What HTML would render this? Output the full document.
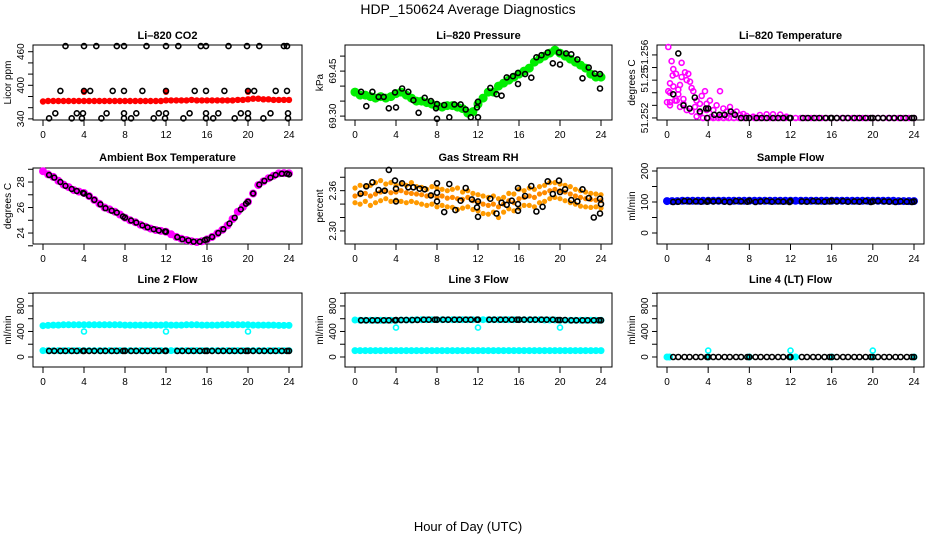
<!DOCTYPE html>
<html><head><meta charset="utf-8"><style>
html,body{margin:0;padding:0;background:#fff}
svg{display:block;font-family:"Liberation Sans",Arial,sans-serif}
</style></head><body>
<svg id="chart" width="936" height="540" viewBox="0 0 936 540" xmlns="http://www.w3.org/2000/svg">
<rect x="0" y="0" width="936" height="540" fill="#fff"/>
<text x="468" y="14" text-anchor="middle" font-size="14">HDP_150624  Average Diagnostics</text>
<text x="468" y="531" text-anchor="middle" font-size="13">Hour of Day (UTC)</text>
<g id="plots"></g>
</svg>
<script>
const xTicks=[0,4,8,12,16,20,24];
const hours=[0,0.5,1,1.5,2,2.5,3,3.5,4,4.5,5,5.5,6,6.5,7,7.5,8,8.5,9,9.5,10,10.5,11,11.5,12,12.5,13,13.5,14,14.5,15,15.5,16,16.5,17,17.5,18,18.5,19,19.5,20,20.5,21,21.5,22,22.5,23,23.5,24];
const blackHours=[0.6,1.1,1.7,2.2,2.8,3.3,3.9,4.0,4.5,5.0,5.6,6.1,6.7,7.2,7.8,8.0,8.6,9.1,9.7,10.2,10.8,11.3,11.9,12.0,13.1,13.6,14.2,14.7,15.3,15.8,16.0,16.5,17.1,17.6,18.2,18.7,19.3,19.8,20.0,20.5,21.1,21.6,22.2,22.7,23.3,23.8,24.0];
const outlierHours=[4,12,20];
// CO2
const co2Red=[371,372,372,372,372,372,372,372,372,372,372,372,372,372,372,372,372,372,372,372,372,372,372,372,373,373,373,373,373,374,373,373,373,373,373,373,373,373,374,374,375,376,376,375,375,374,374,374,374];
const co2RedOutVals=[388,388,388];
const co2BlkHours=[2.2,4.0,5.2,7.2,7.9,10.1,12.0,13.2,15.4,15.9,18.1,19.9,21.1,23.5,23.8,1.7,4.0,4.6,6.8,7.9,9.7,12.0,14.8,15.9,17.7,20.0,20.6,22.7,23.8,1.2,3.3,3.9,6.2,7.9,9.1,11.3,12.0,14.3,15.9,17.1,19.3,20.0,22.2,23.9,0.6,2.8,3.8,5.7,7.9,8.6,10.8,11.9,13.7,15.9,16.6,18.7,20.0,21.5,23.9];
const co2BlkVals=[470,470,470,470,470,470,470,470,470,470,470,470,470,470,470,390,390,390,390,390,390,390,390,390,390,390,390,390,390,350,350,350,350,350,350,350,350,350,350,350,350,350,350,350,341,341,341,341,341,341,341,341,341,341,341,341,341,341,341];
// Pressure
const presGreen=[69.38,69.37,69.37,69.365,69.36,69.365,69.36,69.365,69.375,69.38,69.37,69.36,69.35,69.35,69.345,69.34,69.335,69.33,69.335,69.335,69.33,69.325,69.31,69.315,69.34,69.36,69.38,69.38,69.4,69.41,69.42,69.43,69.44,69.45,69.46,69.48,69.49,69.5,69.51,69.52,69.51,69.5,69.49,69.48,69.47,69.46,69.44,69.43,69.43];
const presBlkHours=[0.6,1.1,1.7,2.3,2.8,3.3,3.9,4.0,4.6,5.2,5.7,6.2,6.8,7.4,7.9,8.0,8.0,8.7,9.2,9.7,10.3,10.8,11.3,11.9,12.0,12.0,13.2,13.8,14.3,14.8,15.4,15.9,15.9,16.6,17.2,17.7,18.2,18.8,19.3,19.9,20.0,20.6,21.1,21.7,22.2,22.8,23.4,23.9,23.9];
const presBlkVals=[69.381,69.333,69.381,69.364,69.364,69.326,69.379,69.329,69.392,69.381,69.353,69.311,69.361,69.35,69.326,69.34,69.291,69.337,69.296,69.339,69.339,69.322,69.296,69.329,69.348,69.296,69.394,69.373,69.368,69.429,69.433,69.444,69.407,69.44,69.428,69.496,69.503,69.512,69.476,69.512,69.472,69.509,69.506,69.489,69.426,69.462,69.442,69.44,69.392];
// Li-820 temperature
const tempMagHours=[0.13,0.45,0.61,0.55,0.29,0.13,0.29,0.78,1.1,1.26,0.87,1.42,1.75,0.61,0.29,1.91,2.23,2.39,2.56,2.88,2.72,1.91,1.59,3.2,3.37,3.69,3.85,4.17,4.5,4.82,5.15,5.47,5.79,6.12,6.44,6.76,7.09,3.2,2.88,2.39,1.26,7.41,7.73,8.38,9.03,9.68,10.3,11.0,11.6,0.94,0.0,0.29,1.1,1.42,2.07,1.59,3.85,4.34,5.15,5.79];
const tempMagVals=[51.2565,51.2556,51.2551,51.2547,51.2542,51.2537,51.2530,51.2531,51.2535,51.2541,51.2548,51.2555,51.2549,51.2540,51.2528,51.2544,51.2543,51.2539,51.2537,51.2531,51.2527,51.2525,51.2529,51.2529,51.2534,51.2537,51.2529,51.2531,51.2525,51.2528,51.2537,51.2526,51.2524,51.2527,51.2523,51.2524,51.2522,51.2523,51.2521,51.2524,51.2527,51.25225,51.25213,51.25208,51.25219,51.25223,51.25223,51.25221,51.25208,51.2531,51.2530,51.2536,51.2538,51.2546,51.2548,51.2532,51.2525,51.25208,51.25208,51.25208];
const tempFloor=51.2520;
const tempBlkHours=[0.6,1.1,1.6,2.2,2.7,3.2,3.8,3.9,4.0,4.6,5.1,5.6,6.2,6.6,7.2,7.7,8.0,8.7,9.2,9.7,10.3,10.8,11.3,11.9,12.0,13.2,13.7,14.3,14.8,15.4,15.9,16.0,16.5,17.1,17.6,18.2,18.7,19.3,19.8,20.0,20.5,21.0,21.6,22.1,22.7,23.2,23.8,24.0];
const tempBlkVals=[51.2535,51.2561,51.2528,51.2526,51.2533,51.2524,51.2526,51.2520,51.2526,51.2522,51.2522,51.2522,51.2524,51.2522,51.2520,51.2520,51.2520,51.2520,51.2520,51.2520,51.2520,51.2520,51.2520,51.2520,51.2520,51.2520,51.2520,51.2520,51.2520,51.2520,51.2520,51.2520,51.2520,51.2520,51.2520,51.2520,51.2520,51.2520,51.2520,51.2520,51.2520,51.2520,51.2520,51.2520,51.2520,51.2520,51.2520,51.2520];
// Ambient
const ambMag=[28.85,28.6,28.4,28.1,27.8,27.6,27.37,27.25,27.14,26.9,26.6,26.3,26.0,25.85,25.67,25.45,25.2,25.0,24.85,24.65,24.5,24.35,24.24,24.17,24.1,23.9,23.7,23.55,23.45,23.35,23.3,23.35,23.5,23.7,23.97,24.25,24.6,25.1,25.67,26.05,26.45,27.1,27.76,28.05,28.3,28.5,28.68,28.7,28.68];
const ambBlk=[28.55,28.35,28.0,27.7,27.45,27.3,27.15,27.1,26.9,26.6,26.25,25.95,25.75,25.6,25.3,25.2,24.98,24.82,24.6,24.45,24.3,24.2,24.12,24.1,23.68,23.52,23.42,23.32,23.32,23.45,23.5,23.7,24.0,24.3,24.75,25.2,25.85,26.3,26.45,27.1,27.8,28.1,28.35,28.55,28.65,28.65,28.6];
// RH
const rhMid=[2.352,2.354,2.356,2.352,2.355,2.358,2.36,2.357,2.358,2.36,2.357,2.356,2.355,2.354,2.352,2.353,2.35,2.352,2.349,2.35,2.348,2.347,2.35,2.345,2.342,2.34,2.338,2.34,2.336,2.34,2.345,2.342,2.348,2.35,2.352,2.35,2.355,2.357,2.36,2.362,2.36,2.358,2.355,2.352,2.35,2.348,2.347,2.346,2.345];
const rhHi=[2.364,2.368,2.366,2.368,2.372,2.375,2.37,2.372,2.368,2.37,2.368,2.372,2.366,2.365,2.362,2.366,2.364,2.362,2.36,2.362,2.364,2.358,2.36,2.356,2.354,2.352,2.35,2.352,2.348,2.35,2.356,2.355,2.362,2.36,2.364,2.362,2.366,2.368,2.372,2.372,2.37,2.368,2.366,2.362,2.36,2.358,2.356,2.355,2.354];
const rhLo=[2.342,2.34,2.344,2.338,2.342,2.345,2.348,2.344,2.346,2.344,2.342,2.344,2.342,2.34,2.338,2.34,2.336,2.338,2.336,2.335,2.332,2.334,2.336,2.332,2.33,2.326,2.325,2.328,2.32,2.328,2.333,2.33,2.334,2.338,2.338,2.336,2.342,2.344,2.348,2.35,2.348,2.345,2.342,2.34,2.337,2.336,2.335,2.336,2.334];
const rhBlkHours=[0.55,1.1,1.7,2.3,2.9,3.3,3.9,4.0,4.0,4.6,5.2,5.7,6.3,6.8,7.4,8.0,8.0,8.0,8.7,9.2,9.8,10.3,10.8,11.4,12.0,11.9,12.0,13.2,13.8,14.3,14.8,15.3,15.9,15.9,15.9,16.6,17.2,17.7,18.3,18.8,19.3,19.9,20.0,20.5,21.1,21.7,22.2,22.8,23.3,23.9,23.9,24.0];
const rhBlkVals=[2.3556,2.3665,2.3725,2.361,2.36,2.391,2.375,2.363,2.344,2.371,2.365,2.365,2.363,2.362,2.353,2.371,2.357,2.344,2.328,2.37,2.331,2.345,2.364,2.347,2.344,2.335,2.321,2.348,2.326,2.342,2.339,2.345,2.34,2.364,2.33,2.352,2.367,2.329,2.336,2.374,2.355,2.375,2.358,2.362,2.346,2.344,2.362,2.349,2.32,2.326,2.348,2.34];
// Flows
const sampleBlue=[103,103,103,104,104,104,104,104,104,104,104,104,104,104,104,104,104,104,104,104,104,104,104,104,104,104,104,104,104,104,104,104,104,104,104,104,104,104,104,104,104,104,104,104,104,103,103,103,103];
const sampleBlk=[100,101,103,102,102,101,101,104,102,103,101,100,103,102,101,104,100,102,103,101,102,101,100,103,102,101,103,102,101,102,104,102,103,101,102,101,103,100,102,103,102,101,100,102,101,100,102];
const line2Upper=[490,495,500,500,505,505,505,505,505,505,505,505,505,505,505,505,500,500,500,500,500,500,500,500,505,500,500,500,505,505,505,500,500,500,500,505,505,505,505,505,505,500,500,500,500,500,495,495,495];
const line2Lower=[100,100,100,100,100,100,100,100,100,100,100,100,100,100,100,100,100,100,100,100,100,100,100,100,100,100,100,100,100,100,100,100,100,100,100,100,100,100,100,100,100,100,100,100,100,100,100,100,100];
const line2Blk=[95,95,95,95,95,95,95,95,95,95,95,95,95,95,95,95,95,95,95,95,95,95,95,95,95,95,95,95,95,95,95,95,95,95,95,95,95,95,95,95,95,95,95,95,95,95,95];
const line2Out=[400,400,400];
const line3Upper=[580,575,575,575,575,575,575,575,575,580,580,580,585,585,585,585,585,585,585,585,585,585,585,585,585,585,585,585,585,585,585,585,585,585,585,585,585,580,580,580,575,575,575,575,575,575,575,575,575];
const line3Lower=[100,100,100,100,100,100,100,100,100,100,100,100,100,100,100,100,100,100,100,100,100,100,100,100,100,100,100,100,100,100,100,100,100,100,100,100,100,100,100,100,100,100,100,100,100,100,100,100,100];
const line3Blk=[575,575,575,575,575,575,575,578,580,580,580,582,585,585,585,585,585,585,585,585,585,585,585,585,585,585,585,585,585,585,585,585,585,585,585,585,585,580,580,580,575,575,575,575,575,575,575];
const line3Out=[460,460,460];
const line4Blk=[0,0,0,0,0,0,0,0,0,0,0,0,0,0,0,0,0,0,0,0,0,0,0,0,0,0,0,0,0,0,0,0,0,0,0,0,0,0,0,0,0,0,0,0,0,0,0];
const line4CyanHours=[0,0.25,4,8,12,12.5,16,20,24];
const line4CyanVals=[0,0,0,0,0,0,0,0,0];
const line4Out=[100,100,100];

const NS="http://www.w3.org/2000/svg";
const root=document.getElementById('plots');
function el(tag,parent){const e=document.createElementNS(NS,tag);parent.appendChild(e);return e;}

const cols=[{l:33,r:302,x0:43,x24:289},{l:345,r:612,x0:355,x24:601},{l:657,r:924,x0:667,x24:914}];
const rows=[{t:45,b:120,ty:39},{t:168,b:244,ty:161},{t:293,b:367,ty:283}];

function makePanel(name,ci,ri,title,ylab,ymin,ymax,yticks,ylabels){
  const c=cols[ci],r=rows[ri];
  const g=el('g',root);
  
  
  const xs=h=>c.x0+(c.x24-c.x0)*h/24;
  const ys=v=>r.b-(v-ymin)/(ymax-ymin)*(r.b-r.t);
  const t=el('text',g);
  
  
  t.setAttribute('x',(c.l+c.r)/2);t.setAttribute('y',r.ty);t.setAttribute('text-anchor','middle');
  t.setAttribute('font-size','11');t.setAttribute('font-weight','bold');t.textContent=title;
  const box=el('rect',g);
  
  
  box.setAttribute('x',c.l);box.setAttribute('y',r.t);box.setAttribute('width',c.r-c.l);box.setAttribute('height',r.b-r.t);
  box.setAttribute('fill','none');box.setAttribute('stroke','#000');box.setAttribute('stroke-width','1');
  const xa=el('g',g);
  
  
  xTicks.forEach(h=>{
    const l=el('line',xa);l.setAttribute('x1',xs(h));l.setAttribute('x2',xs(h));l.setAttribute('y1',r.b);l.setAttribute('y2',r.b+6);l.setAttribute('stroke','#000');
    const tx=el('text',xa);
    
    
    tx.setAttribute('x',xs(h));tx.setAttribute('y',r.b+18);tx.setAttribute('text-anchor','middle');tx.setAttribute('font-size','10');tx.textContent=h;
  });
  const ya=el('g',g);
  
  
  yticks.forEach((v,i)=>{
    const y=ys(v);
    const l=el('line',ya);l.setAttribute('x1',c.l-5);l.setAttribute('x2',c.l);l.setAttribute('y1',y);l.setAttribute('y2',y);l.setAttribute('stroke','#000');
    if(ylabels[i]){
      const tx=el('text',ya);
      
      
      tx.setAttribute('transform','translate('+(c.l-9)+','+y+') rotate(-90)');
      tx.setAttribute('text-anchor','middle');tx.setAttribute('font-size','10');tx.textContent=ylabels[i];
    }
  });
  const yl=el('text',g);
  
  
  yl.setAttribute('transform','translate('+(c.l-22)+','+((r.t+r.b)/2)+') rotate(-90)');
  yl.setAttribute('text-anchor','middle');yl.setAttribute('font-size','10');yl.textContent=ylab;
  return {g,xs,ys};
}
function pts(p,name,hs,vs,color,rad,filled){
  const s=el('g',p.g);
  
  
  hs.forEach((h,i)=>{
    const ci=el('circle',s);
    ci.setAttribute('cx',p.xs(h).toFixed(1));ci.setAttribute('cy',p.ys(vs[i]).toFixed(1));ci.setAttribute('r',rad);
    if(filled){ci.setAttribute('fill',color);}
    else{ci.setAttribute('fill','none');ci.setAttribute('stroke',color);ci.setAttribute('stroke-width','1.6');}
  });
}
function constArr(n,v){const a=[];for(let i=0;i<n;i++)a.push(v);return a;}

// Panel 1 CO2
let p=makePanel('co2',0,0,'Li\u2013820 CO2','Licor ppm',338,472,[340,360,380,400,420,440,460],['340','','','400','','','460']);
pts(p,'co2-red-points',hours,co2Red,'#ff0000',3.2,true);
pts(p,'co2-red-outliers',outlierHours,co2RedOutVals,'#ff0000',3,true);
pts(p,'co2-black-points',co2BlkHours,co2BlkVals,'#000',2.5,false);

// Panel 2 Pressure
p=makePanel('pressure',1,0,'Li\u2013820 Pressure','kPa',69.287,69.537,[69.30,69.35,69.40,69.45,69.50],['69.30','','','69.45','']);
pts(p,'pressure-green-points',hours,presGreen,'#00ee00',4.5,true);
pts(p,'pressure-black-points',presBlkHours,presBlkVals,'#000',2.5,false);

// Panel 3 Temperature
p=makePanel('li820-temperature',2,0,'Li\u2013820 Temperature','degrees C',51.25187,51.25663,[51.252,51.2528,51.2536,51.2544,51.2552,51.256],['51.252','','','51.25','','51.256']);
pts(p,'temperature-magenta-floor',hours.slice(7),constArr(hours.length-7,tempFloor),'#ff00ff',2.5,false);
pts(p,'temperature-magenta-points',tempMagHours,tempMagVals,'#ff00ff',2.5,false);
pts(p,'temperature-black-points',tempBlkHours,tempBlkVals,'#000',2.5,false);

// Panel 4 Ambient
p=makePanel('ambient-temperature',0,1,'Ambient Box Temperature','degrees C',23.14,29.1,[23,24,25,26,27,28,29],['','24','','26','','28','']);
pts(p,'ambient-magenta-points',hours,ambMag,'#ff00ff',4,true);
pts(p,'ambient-black-points',blackHours,ambBlk,'#000',2.4,false);

// Panel 5 RH
p=makePanel('gas-stream-rh',1,1,'Gas Stream RH','percent',2.2805,2.3938,[2.30,2.32,2.34,2.36,2.38],['2.30','','','2.36','']);
pts(p,'rh-orange-high',hours,rhHi,'#ff9a00',2.6,true);
pts(p,'rh-orange-low',hours,rhLo,'#ff9a00',2.6,true);
pts(p,'rh-orange-mid',hours,rhMid,'#ff8a00',2.6,true);
pts(p,'rh-black-points',rhBlkHours,rhBlkVals,'#000',2.5,false);

// Panel 6 Sample flow
p=makePanel('sample-flow',2,1,'Sample Flow','ml/min',-35.5,209.7,[0,50,100,150,200],['0','','100','','200']);
pts(p,'sample-blue-points',hours,sampleBlue,'#0000ff',4,true);
pts(p,'sample-black-points',blackHours,sampleBlk,'#000',2.5,false);

// Panel 7 Line 2
const lt=[0,200,400,600,800,1000],ll=['0','','400','','800',''];
p=makePanel('line2-flow',0,2,'Line 2 Flow','ml/min',-157,1003,lt,ll);
pts(p,'line2-cyan-upper',hours,line2Upper,'#00ffff',3.5,true);
pts(p,'line2-cyan-lower',hours,line2Lower,'#00ffff',3.5,true);
pts(p,'line2-cyan-outliers',outlierHours,line2Out,'#00ffff',2.5,false);
pts(p,'line2-black-points',blackHours,line2Blk,'#000',2.5,false);

// Panel 8 Line 3
p=makePanel('line3-flow',1,2,'Line 3 Flow','ml/min',-157,1003,lt,ll);
pts(p,'line3-cyan-upper',hours,line3Upper,'#00ffff',3.5,true);
pts(p,'line3-cyan-lower',hours,line3Lower,'#00ffff',3.5,true);
pts(p,'line3-cyan-outliers',outlierHours,line3Out,'#00ffff',2.5,false);
pts(p,'line3-black-points',blackHours,line3Blk,'#000',2.5,false);

// Panel 9 Line 4
p=makePanel('line4-flow',2,2,'Line 4 (LT) Flow','ml/min',-157,1003,lt,ll);
pts(p,'line4-cyan-points',line4CyanHours,line4CyanVals,'#00ffff',3.5,true);
pts(p,'line4-cyan-outliers',outlierHours,line4Out,'#00ffff',2.5,false);
pts(p,'line4-black-points',blackHours,line4Blk,'#000',2.5,false);
</script>
</body></html>
